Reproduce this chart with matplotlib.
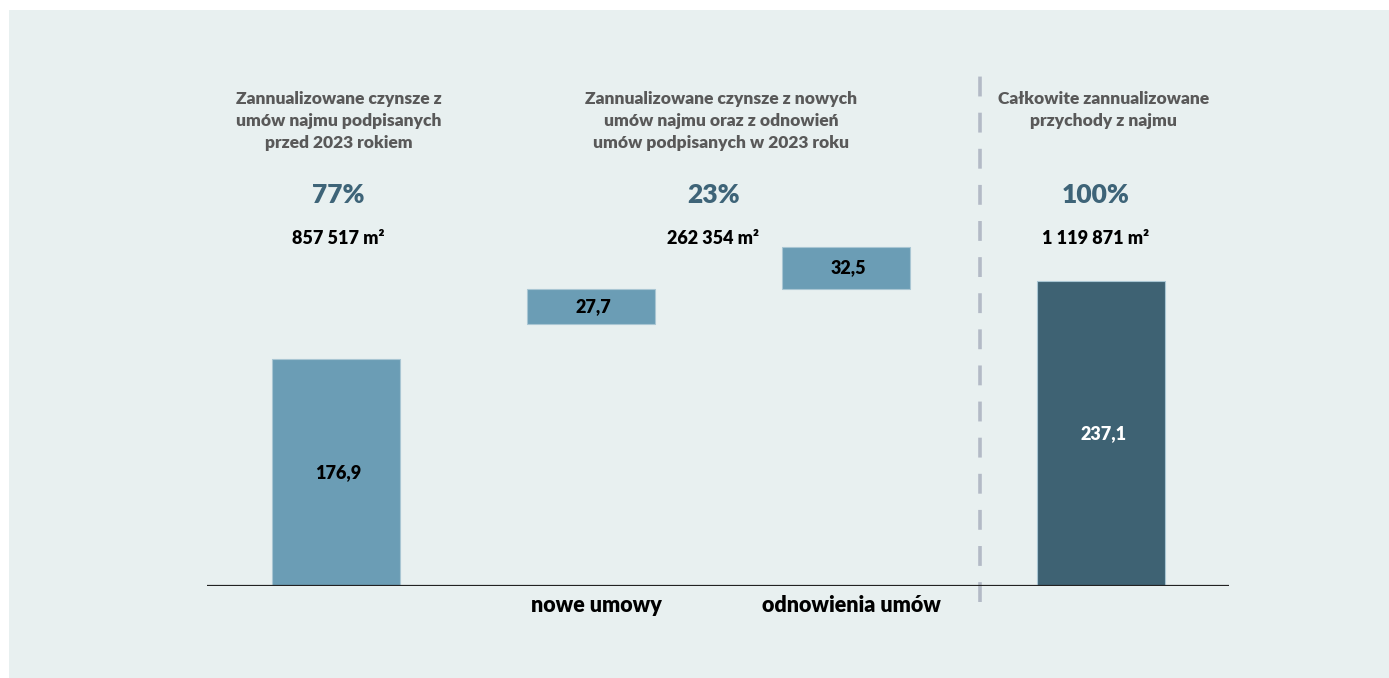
import matplotlib
matplotlib.use("Agg")
import matplotlib.pyplot as plt
from matplotlib.patches import Rectangle

plt.rcParams['font.family'] = ['Lato', 'DejaVu Sans']

# values in mln EUR (annualised rent)
categories = ['', 'nowe umowy', 'odnowienia umów', '']
values = [176.9, 27.7, 32.5, 237.1]
value_labels = ['176,9', '27,7', '32,5', '237,1']
kinds = ['base', 'step', 'step', 'total']

headers = [
    'Zannualizowane czynsze z\numów najmu podpisanych\nprzed 2023 rokiem',
    'Zannualizowane czynsze z nowych\numów najmu oraz z odnowień\numów podpisanych w 2023 roku',
    'Całkowite zannualizowane\nprzychody z najmu',
]
shares = ['77%', '23%', '100%']
areas = ['857 517 m²', '262 354 m²', '1 119 871 m²']
header_x = [0.0, 1.5, 3.0]
share_x = [0.0, 1.47, 2.97]

LIGHT = '#6b9db5'
DARK = '#3e6273'
PANEL = '#e8f0f0'
# extra lift of the floating steps above the first bar
STEP_LIFT = 26.8

fig = plt.figure(figsize=(13.89, 6.78), dpi=100)
fig.patch.set_facecolor('white')
fig.patches.append(Rectangle((9 / 1389, 0), 1 - 9 / 1389, 1 - 10 / 678,
                             transform=fig.transFigure, facecolor=PANEL,
                             edgecolor='none', zorder=-10))

px = 1.285  # pixels per unit
ax = fig.add_axes([207 / 1389, 92 / 678, (1229 - 207) / 1389, 576 / 678])
ax.set_facecolor('none')
ax.set_xlim(-0.506, 3.502)
ax.set_ylim(0, 576 / px)


def ypx(p):
    # convert a pixel row (from the top) to data units
    return (586 - p) / px


# waterfall bottoms
bottoms = []
running = 0.0
for v, k in zip(values, kinds):
    if k == 'base':
        bottoms.append(0.0)
        running = v + STEP_LIFT
    elif k == 'step':
        bottoms.append(running)
        running += v
    else:
        bottoms.append(0.0)

colors = [DARK if k == 'total' else LIGHT for k in kinds]
x = list(range(len(values)))
ax.bar(x, values, bottom=bottoms, width=0.503, color=colors,
       edgecolor='#a9c6d3', linewidth=0.8, zorder=2)

for xi, v, b, lab, k in zip(x, values, bottoms, value_labels, kinds):
    ax.text(xi + 0.01, b + v / 2, lab, ha='center', va='center',
            fontsize=13, fontweight='heavy',
            color='white' if k == 'total' else 'black', zorder=3)

# baseline
ax.axhline(0, color='#222222', linewidth=1.6, zorder=4)

# separator before the total bar
ax.plot([2.525, 2.525], [ypx(602), ypx(70)], color='#b3bac6',
        linewidth=2.6, dashes=(5.5, 4.5), solid_capstyle='butt',
        clip_on=False, zorder=1)

for hx, h in zip(header_x, headers):
    ax.text(hx + 0.01, ypx(91), h, ha='center', va='top', fontsize=12.5,
            fontweight='heavy', color='#595959', linespacing=1.48)

for sx, s in zip(share_x, shares):
    ax.text(sx + 0.01, ypx(195), s, ha='center', va='center', fontsize=19,
            fontweight='heavy', color='#3e6478')

for sx, a in zip(share_x, areas):
    ax.text(sx + 0.01, ypx(238), a, ha='center', va='center', fontsize=13,
            fontweight='heavy', color='black')

for xi, c in zip(x, categories):
    if c:
        ax.text(xi + 0.02, ypx(605), c, ha='center', va='center',
                fontsize=15.5, fontweight='heavy', color='black')

for s in ax.spines.values():
    s.set_visible(False)
ax.set_xticks([])
ax.set_yticks([])

fig.savefig('out.png', dpi=100, facecolor=fig.get_facecolor())
